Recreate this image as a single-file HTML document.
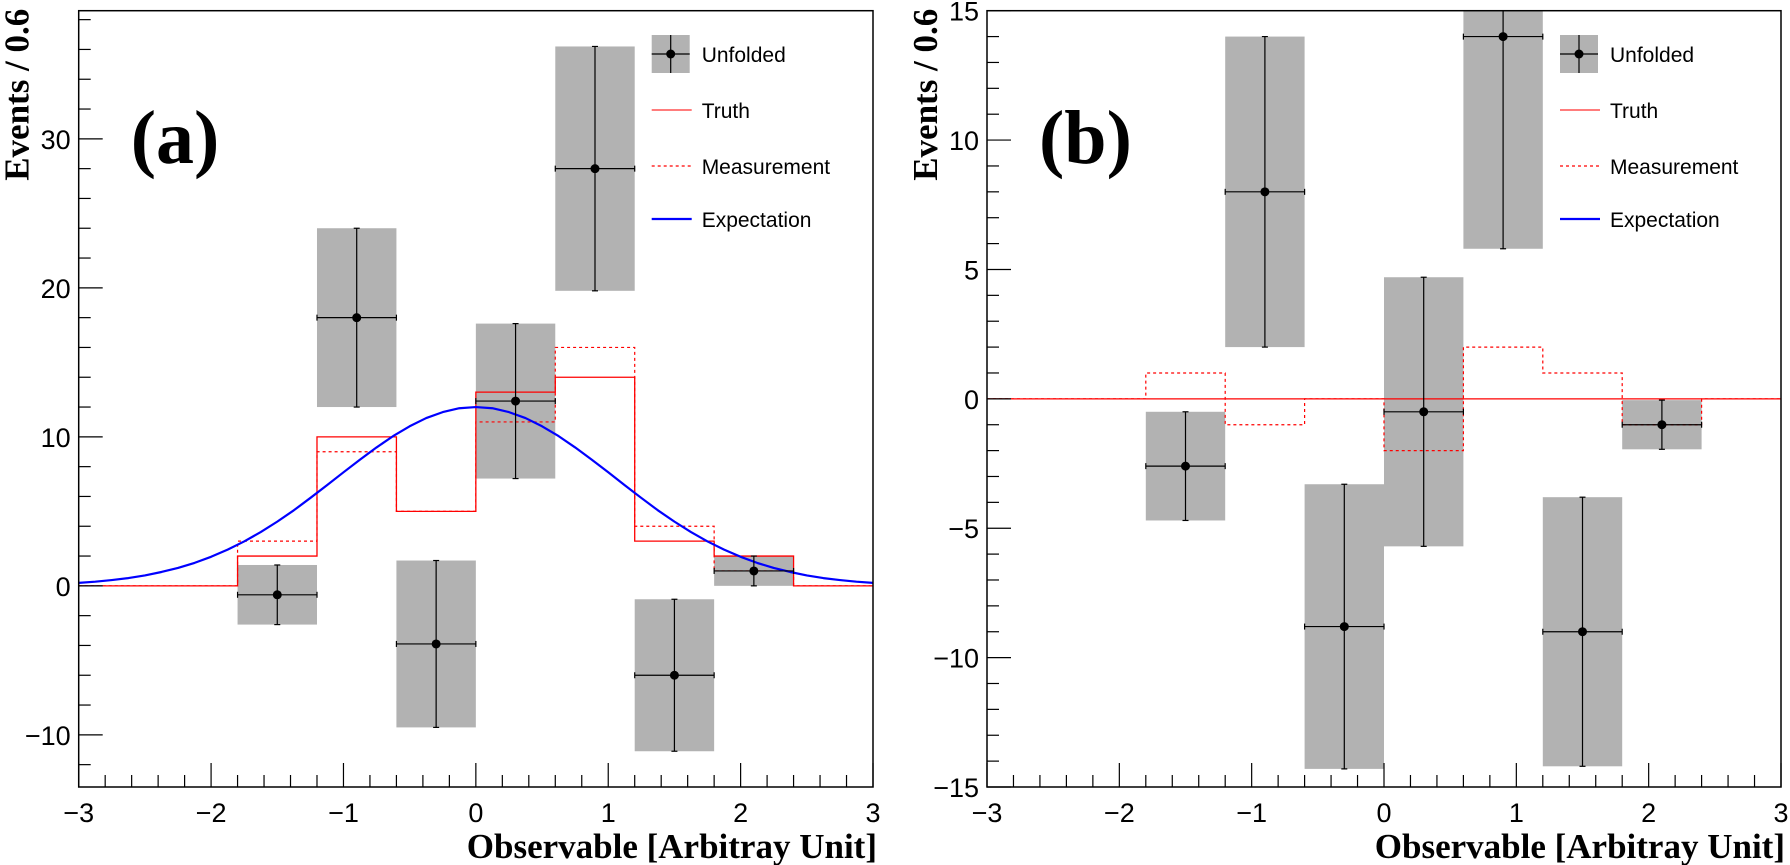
<!DOCTYPE html>
<html><head><meta charset="utf-8">
<style>
html,body{margin:0;padding:0;background:#fff;}
svg{display:block;}
text{font-family:"Liberation Sans",sans-serif;}
.ser{font-family:"Liberation Serif",serif;font-weight:bold;}
</style></head>
<body>
<svg id="chart" width="1790" height="865" viewBox="0 0 1790 865" xmlns="http://www.w3.org/2000/svg"></svg>
<script>
// ---- data ----
const binEdges = [-1.8,-1.2,-0.6,0,0.6,1.2,1.8,2.4];
const binCenters = [-1.5,-0.9,-0.3,0.3,0.9,1.5,2.1];
const truthA = [2,10,5,13,14,3,2];
const measA = [3,9,5,11,16,4,1];
const unfoldA = [-0.6,18,-3.9,12.4,28,-6,1];
const errA = [2.0,6,5.6,5.2,8.2,5.1,1.0];
const expX = [-3,-2.875,-2.75,-2.625,-2.5,-2.375,-2.25,-2.125,-2,-1.875,-1.75,-1.625,-1.5,-1.375,-1.25,-1.125,-1,-0.875,-0.75,-0.625,-0.5,-0.375,-0.25,-0.125,0,0.125,0.25,0.375,0.5,0.625,0.75,0.875,1,1.125,1.25,1.375,1.5,1.625,1.75,1.875,2,2.125,2.25,2.375,2.5,2.625,2.75,2.875,3];
const expY = [0.2,0.28,0.39,0.52,0.7,0.93,1.2,1.54,1.95,2.43,2.98,3.61,4.31,5.07,5.9,6.75,7.62,8.47,9.29,10.05,10.71,11.26,11.66,11.92,12,11.92,11.66,11.26,10.71,10.05,9.29,8.47,7.62,6.75,5.9,5.07,4.31,3.61,2.98,2.43,1.95,1.54,1.2,0.93,0.7,0.52,0.39,0.28,0.2];
const truthB = [0,0,0,0,0,0,0];
const measB = [1,-1,0,-2,2,1,-1];
const unfoldB = [-2.6,8,-8.8,-0.5,14,-9,-1];
const errB = [2.1,6,5.5,5.2,8.2,5.2,0.95];
const xTicks = [-3,-2,-1,0,1,2,3];
const yTicksA = [-10,0,10,20,30];
const yTicksB = [-15,-10,-5,0,5,10,15];

const NS="http://www.w3.org/2000/svg";
const svg=document.getElementById('chart');
function mk(tag,attrs,parent){const e=document.createElementNS(NS,tag);for(const k in attrs)e.setAttribute(k,attrs[k]);(parent||svg).appendChild(e);return e;}

function panel(P){
  const g=mk('g',{});
  
  
  const X=v=>P.x0+(v-(-3))/6*(P.x1-P.x0);
  const Y=v=>P.yb-(v-P.ymin)/(P.ymax-P.ymin)*(P.yb-P.yt);
  const clipId='clip'+P.name;
  const cp=mk('clipPath',{id:clipId},g);
  mk('rect',{x:P.x0,y:P.yt,width:P.x1-P.x0,height:P.yb-P.yt},cp);
  const data=mk('g',{'clip-path':'url(#'+clipId+')'},g);
  P.unf.forEach((v,i)=>{
    const r=mk('rect',{x:X(binEdges[i]),y:Y(v+P.err[i]),width:X(binEdges[i+1])-X(binEdges[i]),height:Y(v-P.err[i])-Y(v+P.err[i]),fill:'#b2b2b2'},data);
    
    
  });
  function steps(vals){
    let d='M'+X(-3)+','+Y(0)+' L'+X(binEdges[0])+','+Y(0);
    vals.forEach((v,i)=>{d+=' L'+X(binEdges[i])+','+Y(v)+' L'+X(binEdges[i+1])+','+Y(v);});
    d+=' L'+X(binEdges[binEdges.length-1])+','+Y(0)+' L'+X(3)+','+Y(0);
    return d;
  }
  const t=mk('path',{d:steps(P.truth),fill:'none',stroke:'#ff0000','stroke-width':1.3},data);
  
  
  const m=mk('path',{d:steps(P.meas),fill:'none',stroke:'#ff0000','stroke-width':1.2,'stroke-dasharray':'3,3'},data);
  
  
  if(P.exp){
    const pts=expX.map((x,i)=>X(x)+','+Y(expY[i])).join(' ');
    const e=mk('polyline',{points:pts,fill:'none',stroke:'#0000ff','stroke-width':2.2,'stroke-linejoin':'round'},data);
    
    
  }
  P.unf.forEach((v,i)=>{
    const cx=X(binCenters[i]),cy=Y(v);
    const eg=mk('g',{stroke:'#000','stroke-width':1.2},data);
    
    
    const yt=Y(v+P.err[i]),yb=Y(v-P.err[i]),xl=X(binEdges[i]),xr=X(binEdges[i+1]);
    mk('line',{x1:cx,y1:yt,x2:cx,y2:yb},eg);
    mk('line',{x1:cx-3,y1:yt,x2:cx+3,y2:yt},eg);
    mk('line',{x1:cx-3,y1:yb,x2:cx+3,y2:yb},eg);
    mk('line',{x1:xl,y1:cy,x2:xr,y2:cy},eg);
    mk('line',{x1:xl,y1:cy-3,x2:xl,y2:cy+3},eg);
    mk('line',{x1:xr,y1:cy-3,x2:xr,y2:cy+3},eg);
    mk('circle',{cx:cx,cy:cy,r:4.5,fill:'#000',stroke:'none'},eg);
  });
  const fr=mk('rect',{x:P.x0,y:P.yt,width:P.x1-P.x0,height:P.yb-P.yt,fill:'none',stroke:'#000','stroke-width':1.5},g);
  
  
  const xa=mk('g',{stroke:'#000','stroke-width':1.2},g);
  
  
  for(let k=0;k<=30;k++){const v=-3+k*0.2;const len=(k%5===0)?24:12;mk('line',{x1:X(v),y1:P.yb,x2:X(v),y2:P.yb-len},xa);}
  xTicks.forEach(v=>{const tx=mk('text',{x:X(v),y:P.yb+35,'font-size':27,'text-anchor':'middle',fill:'#000',stroke:'none'},g);tx.textContent=(v<0?'\u2212'+(-v):String(v));
    
    });
  const ya=mk('g',{stroke:'#000','stroke-width':1.2},g);
  
  
  const yStart=Math.ceil(P.ymin/P.minor)*P.minor;
  for(let v=yStart;v<=P.ymax+1e-9;v+=P.minor){const major=Math.abs(Math.round(v/P.major)*P.major-v)<1e-6;mk('line',{x1:P.x0,y1:Y(v),x2:P.x0+(major?24:12),y2:Y(v)},ya);}
  P.yTicks.forEach(v=>{const tx=mk('text',{x:P.x0-8,y:Y(v)+10,'font-size':27,'text-anchor':'end',fill:'#000'},g);tx.textContent=(v<0?'\u2212'+(-v):String(v));
    
    });
  const yt=mk('text',{class:'ser',x:0,y:0,'font-size':35,'text-anchor':'end',transform:'translate('+(P.x0-50)+','+(P.yt-2)+') rotate(-90)',fill:'#000'},g);
  yt.textContent='Events / 0.6';
  
  
  const xt=mk('text',{class:'ser',x:P.x1+4,y:858,'font-size':35,'text-anchor':'end',fill:'#000'},g);
  xt.textContent='Observable [Arbitray Unit]';
  
  
  const pl=mk('text',{class:'ser',x:P.x0+52,y:163,'font-size':76,fill:'#000'},g);
  pl.textContent=P.label;
  
  
  const lx=P.x0+561, lg=mk('g',{},g);
  
  
  const items=[['Unfolded',54],['Truth',110],['Measurement',166],['Expectation',219]];
  items.forEach(([name,y],i)=>{
    const eg=mk('g',{},lg);
    
    
    if(i===0){mk('rect',{x:lx+12,y:y-19,width:38,height:38,fill:'#b2b2b2'},eg);
      mk('line',{x1:lx+12,y1:y,x2:lx+50,y2:y,stroke:'#000','stroke-width':1.2},eg);
      mk('line',{x1:lx+31,y1:y-19,x2:lx+31,y2:y+19,stroke:'#000','stroke-width':1.2},eg);
      mk('circle',{cx:lx+31,cy:y,r:4.5,fill:'#000'},eg);}
    else if(i===1) mk('line',{x1:lx+12,y1:y,x2:lx+52,y2:y,stroke:'#ff5050','stroke-width':1.5},eg);
    else if(i===2) mk('line',{x1:lx+12,y1:y,x2:lx+52,y2:y,stroke:'#ff0000','stroke-width':1.2,'stroke-dasharray':'3,3'},eg);
    else mk('line',{x1:lx+12,y1:y,x2:lx+52,y2:y,stroke:'#0000ff','stroke-width':2.2},eg);
    const tx=mk('text',{x:lx+62,y:y+8,'font-size':21,fill:'#000'},eg);tx.textContent=name;
  });
}
panel({name:'panel-a',label:'(a)',x0:78.7,x1:873,yt:10.7,yb:787,ymin:-13.5,ymax:38.6,minor:2,major:10,yTicks:yTicksA,truth:truthA,meas:measA,unf:unfoldA,err:errA,exp:true});
panel({name:'panel-b',label:'(b)',x0:987,x1:1781,yt:10.7,yb:787,ymin:-15,ymax:15,minor:1,major:5,yTicks:yTicksB,truth:truthB,meas:measB,unf:unfoldB,err:errB,exp:false});
</script>
</body></html>
